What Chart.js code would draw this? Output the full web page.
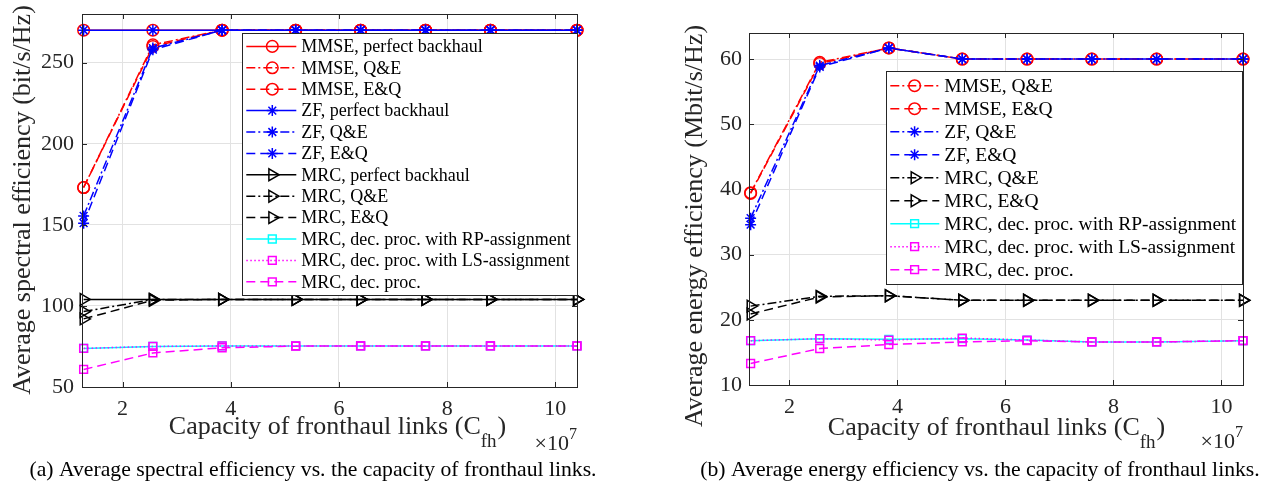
<!DOCTYPE html>
<html>
<head>
<meta charset="utf-8">
<title>Fronthaul capacity</title>
<script src="https://cdn.jsdelivr.net/npm/chart.js@4.4.1/dist/chart.umd.min.js"></script>
<style>
  html, body { margin: 0; padding: 0; background: #fff; }
  body { width: 1269px; height: 483px; position: relative; overflow: hidden; }
  .wrap { position: absolute; top: 0; height: 483px; }
</style>
</head>
<body>
<div class="wrap" style="left:0;width:620px"><canvas id="se"></canvas></div>
<div class="wrap" style="left:640px;width:629px"><canvas id="ee"></canvas></div>
<script>
// capacity of fronthaul links, in units of 1e7
const capacity = [1.28, 2.56, 3.84, 5.2, 6.4, 7.6, 8.8, 10.4];
const xTicks = [2, 4, 6, 8, 10];

// (a) average spectral efficiency (bit/s/Hz)
const seTicks = [50, 100, 150, 200, 250];
const seMmsePerfect = [270, 270, 270, 270, 270, 270, 270, 270];
const seMmseQE = [173, 261, 270, 270, 270, 270, 270, 270];
const seMmseEQ = [173, 260, 270, 270, 270, 270, 270, 270];
const seZfPerfect = [270, 270, 270, 270, 270, 270, 270, 270];
const seZfQE = [155.5, 259, 270, 270, 270, 270, 270, 270];
const seZfEQ = [151, 258, 270, 270, 270, 270, 270, 270];
const seMrcPerfect = [104, 104, 104, 104, 104, 104, 104, 104];
const seMrcQE = [96.5, 104, 104, 104, 104, 104, 104, 104];
const seMrcEQ = [92, 103.5, 104, 104, 104, 104, 104, 104];
const seMrcRP = [73.8, 75, 75.3, 75.3, 75.3, 75.3, 75.3, 75.3];
const seMrcLS = [73.8, 75, 75.3, 75.3, 75.3, 75.3, 75.3, 75.3];
const seMrcDec = [60.8, 71, 74.2, 75.2, 75.3, 75.3, 75.3, 75.3];

// (b) average energy efficiency (Mbit/s/Hz)
const eeTicks = [10, 20, 30, 40, 50, 60];
const eeMmseQE = [39.5, 59.5, 61.7, 60, 60, 60, 60, 60];
const eeMmseEQ = [39.4, 59.3, 61.7, 60, 60, 60, 60, 60];
const eeZfQE = [35.6, 59.0, 61.7, 60, 60, 60, 60, 60];
const eeZfEQ = [34.6, 58.8, 61.7, 60, 60, 60, 60, 60];
const eeMrcQE = [22.1, 23.6, 23.7, 23.0, 23.0, 23.0, 23.0, 23.0];
const eeMrcEQ = [20.9, 23.5, 23.7, 23.0, 23.0, 23.0, 23.0, 23.0];
const eeMrcRP = [16.8, 17.1, 17.0, 17.1, 16.9, 16.6, 16.6, 16.8];
const eeMrcLS = [16.8, 17.1, 16.9, 17.2, 16.9, 16.6, 16.6, 16.8];
const eeMrcDec = [13.3, 15.6, 16.2, 16.6, 16.8, 16.6, 16.6, 16.8];

const RED = '#ff0000', BLUE = '#0000ff', BLACK = '#000000', CYAN = '#00ffff', MAGENTA = '#ff00ff';
const SOLID = [], DASHDOT = [9, 3, 2, 3], DASHED = [9, 5], DOTTED = [1.5, 2.5];
const AXIS = '#262626', GRID = '#e2e2e2';
const SERIF = '"Liberation Serif", "Times New Roman", serif';

const MARKERS = {
  circle: { pointStyle: 'circle', pointRadius: 5.8, pointRotation: 0 },
  star: { pointStyle: 'star', pointRadius: 5.5, pointRotation: 0 },
  tri: { pointStyle: 'triangle', pointRadius: 6.8, pointRotation: 90 },
  square: { pointStyle: 'rect', pointRadius: 5.5, pointRotation: 0 }
};

function series(label, values, color, dash, marker) {
  const m = MARKERS[marker];
  return {
    label,
    data: capacity.map((x, i) => ({ x, y: values[i] })),
    borderColor: color,
    borderWidth: 1.5,
    borderDash: dash,
    fill: false,
    tension: 0,
    clip: false,
    pointStyle: m.pointStyle,
    pointRadius: m.pointRadius,
    pointHoverRadius: m.pointRadius,
    pointRotation: m.pointRotation,
    pointBorderColor: color,
    pointBackgroundColor: 'rgba(0,0,0,0)',
    pointBorderWidth: 1.5
  };
}

// axis box, inward ticks, legend and texts
function decor(p) {
  return {
    id: 'decor',
    afterDatasetsDraw(chart) {
      const { ctx, chartArea: a, scales } = chart;
      ctx.save();
      ctx.strokeStyle = AXIS;
      ctx.lineWidth = 1;
      ctx.setLineDash([]);
      ctx.beginPath();
      xTicks.forEach(v => {
        const px = Math.round(scales.x.getPixelForValue(v)) + 0.5;
        ctx.moveTo(px, a.bottom); ctx.lineTo(px, a.bottom - 5);
        ctx.moveTo(px, a.top); ctx.lineTo(px, a.top + 5);
      });
      p.yTicks.forEach(v => {
        const py = Math.round(scales.y.getPixelForValue(v)) + 0.5;
        ctx.moveTo(a.left, py); ctx.lineTo(a.left + 5, py);
        ctx.moveTo(a.right, py); ctx.lineTo(a.right - 5, py);
      });
      ctx.stroke();
      ctx.strokeRect(Math.round(a.left) + 0.5, Math.round(a.top) + 0.5,
        Math.round(a.right - a.left), Math.round(a.bottom - a.top));
      ctx.restore();

      drawLegend(ctx, a, p.legend, chart.data.datasets);
    },
    afterDraw(chart) {
      const { ctx, chartArea: a } = chart;
      ctx.save();
      ctx.fillStyle = AXIS;

      // y title
      ctx.font = '26px ' + SERIF;
      ctx.textAlign = 'center';
      ctx.textBaseline = 'middle';
      ctx.translate(p.yTitle.x, p.yTitle.y);
      ctx.rotate(-Math.PI / 2);
      ctx.fillText(p.yTitle.text, 0, 0);
      ctx.setTransform(chart.currentDevicePixelRatio, 0, 0, chart.currentDevicePixelRatio, 0, 0);

      // x title with subscript
      ctx.textAlign = 'left';
      ctx.textBaseline = 'alphabetic';
      const main = 'Capacity of fronthaul links (C', sub = 'fh', close = ')';
      ctx.font = '26px ' + SERIF;
      const w1 = ctx.measureText(main).width, w3 = ctx.measureText(close).width;
      ctx.font = '19px ' + SERIF;
      const w2 = ctx.measureText(sub).width;
      let x = p.xTitle.x - (w1 + w2 + w3) / 2;
      ctx.font = '26px ' + SERIF;
      ctx.fillText(main, x, p.xTitle.y);
      ctx.font = '19px ' + SERIF;
      ctx.fillText(sub, x + w1, p.xTitle.y + 13);
      ctx.font = '26px ' + SERIF;
      ctx.fillText(close, x + w1 + w2 + 1, p.xTitle.y);

      // x exponent
      ctx.font = '16px ' + SERIF;
      const we = ctx.measureText('7').width;
      ctx.textAlign = 'right';
      ctx.fillText('7', a.right, p.expY - 11);
      ctx.font = '22px ' + SERIF;
      ctx.fillText('\u00d710', a.right - we, p.expY);

      // caption
      ctx.fillStyle = '#000';
      ctx.textAlign = 'center';
      ctx.font = '21.7px ' + SERIF;
      ctx.fillText(p.caption.text, p.caption.x, p.caption.y);
      ctx.restore();
    }
  };
}

function drawLegend(ctx, a, lg, sets) {
  ctx.save();
  ctx.font = lg.size + 'px ' + SERIF;
  const textW = Math.max(...sets.map(d => ctx.measureText(d.label).width));
  const w = Math.round(lg.textX + textW + lg.padR);
  const h = Math.round(sets.length * lg.rowH + lg.padV * 2);
  const x0 = Math.round(a.right - lg.right - w), y0 = Math.round(a.top + lg.top);
  ctx.fillStyle = '#fff';
  ctx.fillRect(x0, y0, w, h);
  ctx.strokeStyle = AXIS;
  ctx.lineWidth = 1;
  ctx.strokeRect(x0 + 0.5, y0 + 0.5, w, h);
  ctx.textAlign = 'left';
  ctx.textBaseline = 'middle';
  sets.forEach((d, i) => {
    const cy = y0 + lg.padV + lg.rowH * (i + 0.5);
    ctx.strokeStyle = d.borderColor;
    ctx.lineWidth = d.borderWidth;
    ctx.setLineDash(d.borderDash);
    ctx.beginPath();
    ctx.moveTo(x0 + lg.line0, cy);
    ctx.lineTo(x0 + lg.line1, cy);
    ctx.stroke();
    ctx.setLineDash([]);
    ctx.fillStyle = 'rgba(0,0,0,0)';
    ctx.lineWidth = d.pointBorderWidth;
    Chart.helpers.drawPoint(ctx, {
      pointStyle: d.pointStyle, radius: d.pointRadius,
      rotation: d.pointRotation, borderWidth: d.pointBorderWidth
    }, x0 + lg.mark, cy);
    ctx.fillStyle = '#000';
    ctx.fillText(d.label, x0 + lg.textX, cy + 1);
  });
  ctx.restore();
}

function buildChart(id, p) {
  const tickFont = { family: SERIF, size: 22 };
  return new Chart(document.getElementById(id), {
    type: 'line',
    data: { datasets: p.series.map((s, i) => Object.assign(s, { order: -i })) },
    options: {
      responsive: true,
      maintainAspectRatio: false,
      animation: false,
      events: [],
      layout: { padding: { top: p.area.top, right: p.area.right, left: 0, bottom: 0 } },
      plugins: { legend: { display: false }, tooltip: { enabled: false } },
      scales: {
        x: {
          type: 'linear',
          min: 1.25,
          max: 10.4,
          afterBuildTicks: s => { s.ticks = xTicks.map(v => ({ value: v })); },
          afterFit: s => { s.height = p.area.bottom; s.paddingLeft = 0; s.paddingRight = 0; },
          grid: { color: GRID, drawTicks: false },
          border: { display: false },
          ticks: { font: tickFont, color: AXIS, padding: 9, maxRotation: 0, callback: v => String(v) }
        },
        y: {
          type: 'linear',
          min: p.yMin,
          max: p.yMax,
          afterBuildTicks: s => { s.ticks = p.yTicks.map(v => ({ value: v })); },
          afterFit: s => { s.width = p.area.left; s.paddingTop = 0; s.paddingBottom = 0; },
          grid: { color: GRID, drawTicks: false },
          border: { display: false },
          ticks: { font: tickFont, color: AXIS, padding: p.yPad, callback: v => String(v) }
        }
      }
    },
    plugins: [decor(p)]
  });
}

buildChart('se', {
  series: [
    series('MMSE, perfect backhaul', seMmsePerfect, RED, SOLID, 'circle'),
    series('MMSE, Q&E', seMmseQE, RED, DASHDOT, 'circle'),
    series('MMSE, E&Q', seMmseEQ, RED, DASHED, 'circle'),
    series('ZF, perfect backhaul', seZfPerfect, BLUE, SOLID, 'star'),
    series('ZF, Q&E', seZfQE, BLUE, DASHDOT, 'star'),
    series('ZF, E&Q', seZfEQ, BLUE, DASHED, 'star'),
    series('MRC, perfect backhaul', seMrcPerfect, BLACK, SOLID, 'tri'),
    series('MRC, Q&E', seMrcQE, BLACK, DASHDOT, 'tri'),
    series('MRC, E&Q', seMrcEQ, BLACK, DASHED, 'tri'),
    series('MRC, dec. proc. with RP-assignment', seMrcRP, CYAN, SOLID, 'square'),
    series('MRC, dec. proc. with LS-assignment', seMrcLS, MAGENTA, DOTTED, 'square'),
    series('MRC, dec. proc.', seMrcDec, MAGENTA, DASHED, 'square')
  ],
  yTicks: seTicks, yMin: 50, yMax: 280, yPad: 8,
  area: { left: 82, top: 14, right: 43, bottom: 96 },
  yTitle: { text: 'Average spectral efficiency (bit/s/Hz)', x: 23, y: 200 },
  xTitle: { x: 337, y: 434 },
  expY: 450,
  caption: { text: '(a) Average spectral efficiency vs. the capacity of fronthaul links.', x: 313, y: 476 },
  legend: { size: 18, rowH: 21.4, padV: 2.7, line0: 4.3, line1: 54.3, mark: 30.3, textX: 59.3, padR: 6.3, right: 0, top: 19.3 }
});

buildChart('ee', {
  series: [
    series('MMSE, Q&E', eeMmseQE, RED, DASHDOT, 'circle'),
    series('MMSE, E&Q', eeMmseEQ, RED, DASHED, 'circle'),
    series('ZF, Q&E', eeZfQE, BLUE, DASHDOT, 'star'),
    series('ZF, E&Q', eeZfEQ, BLUE, DASHED, 'star'),
    series('MRC, Q&E', eeMrcQE, BLACK, DASHDOT, 'tri'),
    series('MRC, E&Q', eeMrcEQ, BLACK, DASHED, 'tri'),
    series('MRC, dec. proc. with RP-assignment', eeMrcRP, CYAN, SOLID, 'square'),
    series('MRC, dec. proc. with LS-assignment', eeMrcLS, MAGENTA, DOTTED, 'square'),
    series('MRC, dec. proc.', eeMrcDec, MAGENTA, DASHED, 'square')
  ],
  yTicks: eeTicks, yMin: 10, yMax: 64, yPad: 7,
  area: { left: 109, top: 33, right: 26, bottom: 98 },
  yTitle: { text: 'Average energy efficiency (Mbit/s/Hz)', x: 55, y: 226 },
  xTitle: { x: 356, y: 435 },
  expY: 448,
  caption: { text: '(b) Average energy efficiency vs. the capacity of fronthaul links.', x: 340, y: 476 },
  legend: { size: 19.5, rowH: 23, padV: 3.2, line0: 4.3, line1: 53.3, mark: 28.6, textX: 58.3, padR: 5.3, right: 1, top: 38 }
});
</script>
</body>
</html>
